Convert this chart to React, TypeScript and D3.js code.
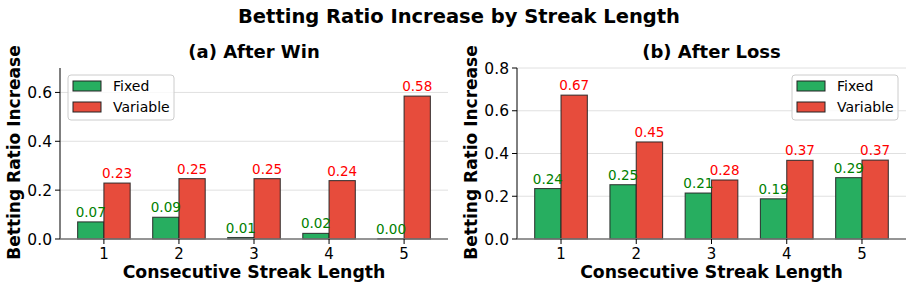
import * as d3 from 'd3'
import React from 'react'

// streak lengths on the x axis
const streaks = ['1', '2', '3', '4', '5']
const series = ['Fixed', 'Variable']

// after win
const winFixed = [0.07, 0.089, 0.006, 0.023, 0.001]
const winVariable = [0.229, 0.247, 0.247, 0.239, 0.585]
// after loss
const lossFixed = [0.236, 0.254, 0.215, 0.188, 0.287]
const lossVariable = [0.673, 0.454, 0.276, 0.368, 0.369]

const winTicks = [0, 0.2, 0.4, 0.6]
const lossTicks = [0, 0.2, 0.4, 0.6, 0.8]

const barColors = ['#27ae60', '#e74c3c']
const labelColors = ['#008000', '#ff0000']
const font = 'DejaVu Sans, sans-serif'

function Panel(props) {
  const { left, right, yMax, ticks, fixed, variable, title, legendRight } = props
  const top = 68
  const bottom = 239
  const width = 0.35

  // same numeric x as matplotlib: index positions with 5% margins
  const x = d3.scaleLinear().domain([-0.585, 4.585]).range([left, right])
  const y = d3.scaleLinear().domain([0, yMax]).range([bottom, top])
  const bw = x(width) - x(0)
  const values = [fixed, variable]

  const legX = legendRight ? right - 114 : left + 8
  const legY = 75

  return (
    <g>
      <text x={(left + right) / 2} y={58} textAnchor="middle" fontSize={18} fontWeight="bold">
        {title}
      </text>
      {ticks.map(t => (
        <line key={'g' + t} x1={left} x2={right} y1={y(t)} y2={y(t)} stroke="#ddd" strokeWidth={0.9} />
      ))}
      {values.map((vals, s) =>
        vals.map((v, i) => {
          const x0 = s === 0 ? x(i) - bw : x(i)
          return (
            <rect
              key={s + '-' + i}
              x={x0}
              y={y(v)}
              width={bw}
              height={y(0) - y(v)}
              fill={barColors[s]}
              stroke="#222"
              strokeOpacity={0.85}
              strokeWidth={1.1}
            />
          )
        })
      )}
      {values.map((vals, s) =>
        vals.map((v, i) => {
          const cx = s === 0 ? x(i) - bw / 2 : x(i) + bw / 2
          return (
            <text key={'l' + s + i} x={cx} y={y(v) - 5} textAnchor="middle" fontSize={13.5} fill={labelColors[s]}>
              {v.toFixed(2)}
            </text>
          )
        })
      )}
      <line x1={left} x2={left} y1={top} y2={bottom} stroke="#000" strokeWidth={1} />
      <line x1={left} x2={right} y1={bottom} y2={bottom} stroke="#777" strokeWidth={1.4} />
      {ticks.map(t => (
        <g key={'t' + t}>
          <line x1={left - 5} x2={left} y1={y(t)} y2={y(t)} stroke="#000" />
          <text x={left - 8} y={y(t) + 5.5} textAnchor="end" fontSize={15.5}>
            {t.toFixed(1)}
          </text>
        </g>
      ))}
      {streaks.map((c, i) => (
        <g key={'x' + c}>
          <line x1={x(i)} x2={x(i)} y1={bottom} y2={bottom + 5} stroke="#000" />
          <text x={x(i)} y={258.5} textAnchor="middle" fontSize={15}>
            {c}
          </text>
        </g>
      ))}
      <text x={(left + right) / 2} y={278} textAnchor="middle" fontSize={17.3} fontWeight="bold">
        Consecutive Streak Length
      </text>
      <text
        transform={`translate(${left - 40},${(top + bottom) / 2 - 1}) rotate(-90)`}
        textAnchor="middle"
        fontSize={17}
        fontWeight="bold"
      >
        Betting Ratio Increase
      </text>
      <rect x={legX} y={legY} width={106} height={45} rx={3} fill="#fff" fillOpacity={0.8} stroke="#ccc" />
      {series.map((name, s) => (
        <g key={name}>
          <rect
            x={legX + 5}
            y={legY + 6 + s * 21}
            width={28}
            height={10}
            fill={barColors[s]}
            stroke="#222"
            strokeWidth={1}
          />
          <text x={legX + 45} y={legY + 16 + s * 21} fontSize={14}>
            {name}
          </text>
        </g>
      ))}
    </g>
  )
}

export default function App() {
  return (
    <svg width={914} height={291} style={{ display: 'block', position: 'absolute', left: 0, top: 0 }} fontFamily={font}>
      <rect width={914} height={291} fill="#fff" />
      <text x={459} y={23} textAnchor="middle" fontSize={19.5} fontWeight="bold">
        Betting Ratio Increase by Streak Length
      </text>
      <Panel
        left={60}
        right={448}
        yMax={0.7}
        ticks={winTicks}
        fixed={winFixed}
        variable={winVariable}
        title="(a) After Win"
        legendRight={false}
      />
      <Panel
        left={517}
        right={906}
        yMax={0.8}
        ticks={lossTicks}
        fixed={lossFixed}
        variable={lossVariable}
        title="(b) After Loss"
        legendRight={true}
      />
    </svg>
  )
}
